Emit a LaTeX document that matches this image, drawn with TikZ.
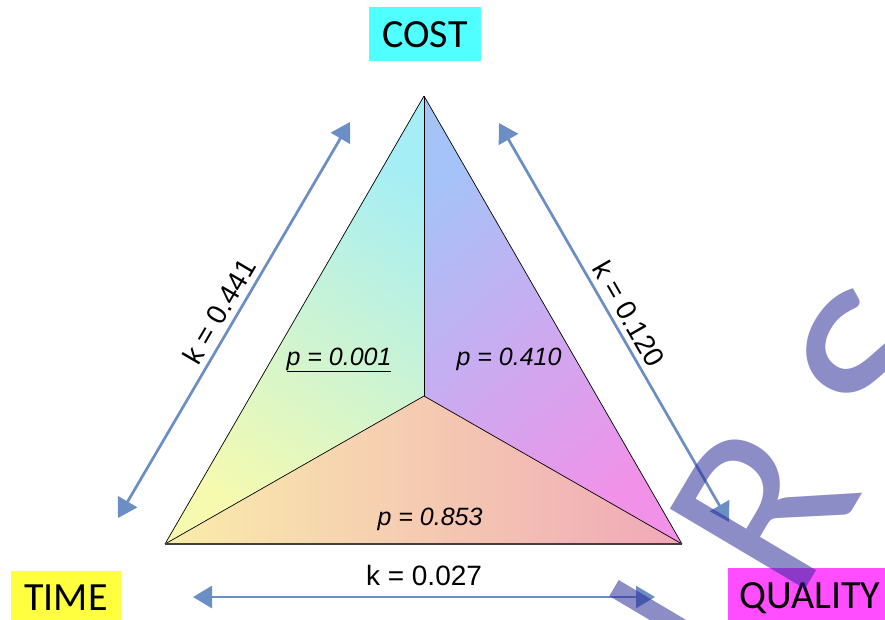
\documentclass[tikz,border=0pt]{standalone}
\usepackage{fontspec}
\setmainfont{Liberation Sans}
\newfontfamily\calfont{Carlito}
\usetikzlibrary{arrows.meta}
\definecolor{arrowblue}{RGB}{107,142,196}
\definecolor{wmcol}{RGB}{40,40,150}
\definecolor{costcol}{RGB}{80,255,255}
\definecolor{timecol}{RGB}{255,255,64}
\definecolor{qualcol}{RGB}{255,77,255}
\definecolor{lcY}{RGB}{245,250,175}
\definecolor{lcG}{RGB}{200,245,195}
\definecolor{lcC}{RGB}{165,238,245}
\definecolor{rcB}{RGB}{165,195,248}
\definecolor{rcL}{RGB}{200,170,242}
\definecolor{rcM}{RGB}{242,145,232}
\definecolor{bcY}{RGB}{250,236,170}
\definecolor{bcP}{RGB}{246,205,178}
\definecolor{bcK}{RGB}{240,168,185}
\begin{document}
\begin{tikzpicture}[x=1pt,y=-1pt,
  tri/.style={black, line width=0.7pt},
  basel/.style={black!75, line width=1.6pt},
  arr/.style={arrowblue, line width=2.7pt,
    {Triangle[length=19pt,width=22pt]}-{Triangle[length=19pt,width=22pt]}},
  klabel/.style={font=\fontsize{28}{32}\selectfont, text=black, inner xsep=0pt, inner ysep=5.5pt},
  plabel/.style={font=\itshape\fontsize{25}{30}\selectfont, text=black, inner sep=0pt},
  boxlabel/.style={font=\calfont\fontsize{40}{44}\selectfont, text=black, inner sep=0pt,
    text height=26.5pt, text depth=0pt, minimum height=54pt},
  wm/.style={font=\calfont\fontsize{245}{250}\selectfont, text=wmcol, text opacity=0.535,
    inner sep=0pt, rotate=59.3}]
\useasboundingbox (0,0) rectangle (885,619);
\clip (0,0) rectangle (885,619);
\fill[white] (0,0) rectangle (885,619);

\coordinate (A) at (424,96);
\coordinate (BL) at (165,544);
\coordinate (BR) at (682,544);
\coordinate (M) at (424,396);

\shade[top color=lcC, middle color=lcG, bottom color=lcY, shading angle=-35] (A) -- (M) -- (BL) -- cycle;
\shade[top color=rcB, middle color=rcL, bottom color=rcM, shading angle=40] (A) -- (BR) -- (M) -- cycle;
\shade[left color=bcY, middle color=bcP, right color=bcK] (BL) -- (M) -- (BR) -- cycle;

\draw[tri] (A) -- (BL);
\draw[tri] (A) -- (BR);
\draw[tri] (A) -- (M);
\draw[tri] (M) -- (BL);
\draw[tri] (M) -- (BR);
\draw[basel] (BL) -- (BR);

\node[plabel, anchor=base] (p1) at (339,365) {\underline{p = 0.001}};
\node[plabel, anchor=base] (p2) at (509,365) {p = 0.410};
\node[plabel, anchor=base] (p3) at (430,525) {p = 0.853};

\coordinate (La) at (118,518);
\coordinate (Lb) at (350,122);
\coordinate (Ra) at (499,123);
\coordinate (Rb) at (729,522);
\coordinate (Ba) at (193,597);
\coordinate (Bb) at (655,597);

\draw[arr] (La) -- node[klabel, sloped, above] (k1) {k = 0.441} (Lb);
\draw[arr] (Ra) -- node[klabel, sloped, above] (k2) {k = 0.120} (Rb);
\draw[arr] (Ba) -- node[klabel, inner ysep=10pt, above] (k3) {k = 0.027} (Bb);

\node[boxlabel, fill=costcol, minimum width=112pt] (cost) at (425,34) {COST};
\node[boxlabel, fill=timecol, minimum width=110pt] (time) at (66,597.5) {TIME};
\node[boxlabel, fill=qualcol, minimum width=164pt] (qual) at (810,595) {QUALITY};

\node[wm] (wmR) at (763,507) {R};
\node[wm, xscale=1.12] (wmS) at (883,364) {S};
\fill[wmcol, fill opacity=0.535] (618.7,580) -- (704.7,631) -- (695.3,647) -- (609.3,596) -- cycle;
\end{tikzpicture}
\end{document}
